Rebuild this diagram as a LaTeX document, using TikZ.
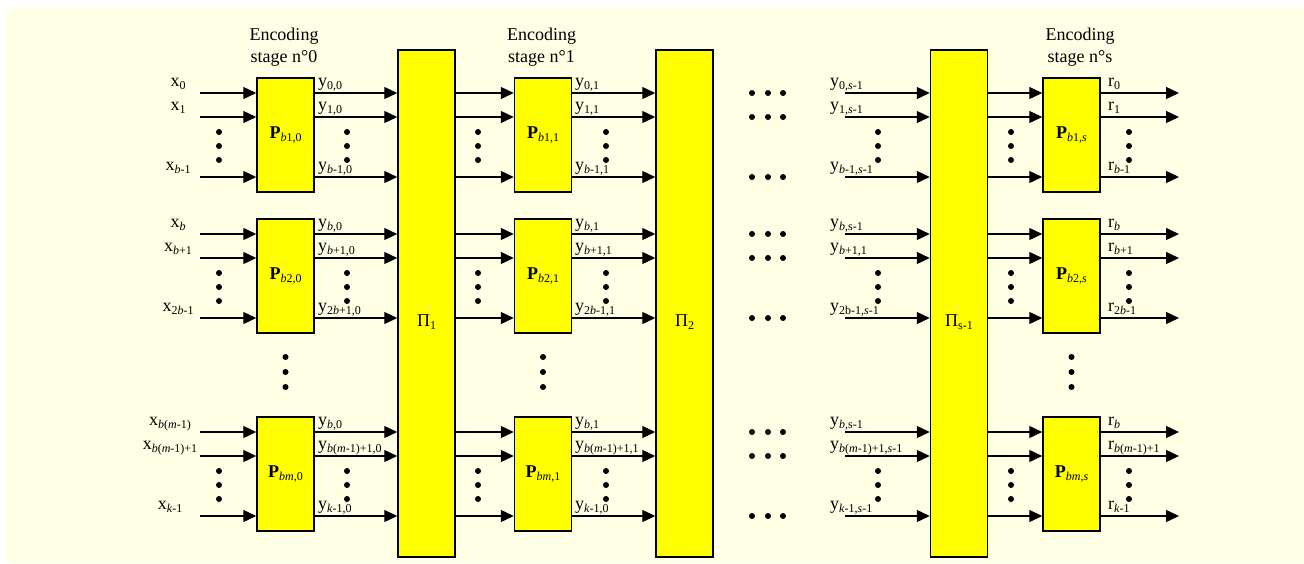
\documentclass[tikz,border=0pt]{standalone}
\usepackage{fontspec}
\setmainfont{Liberation Serif}
\usetikzlibrary{arrows.meta}
\definecolor{bgc}{RGB}{255,255,229}
\definecolor{ylw}{RGB}{255,255,0}
\newcommand{\sbs}[1]{\raisebox{-3pt}{\fontsize{12}{12}\selectfont #1}}
\newcommand{\vB}{\textit{b}}
\newcommand{\vM}{\textit{m}}
\newcommand{\vK}{\textit{k}}
\newcommand{\vS}{\textit{s}}
\newcommand{\Lw}[4]{\node[lbl,anchor=base west] (#1) at (#2,#3) {#4};}
\newcommand{\Lc}[4]{\node[lbl,anchor=base] (#1) at (#2,#3) {#4};}
\begin{document}
\begin{tikzpicture}[x=1pt,y=-1pt,
  lbl/.style={inner sep=0pt, font=\fontsize{18}{22}\selectfont},
  pbox/.style={draw=black, line width=1.5pt, fill=ylw, minimum width=57pt, minimum height=114pt, inner sep=0pt, font=\fontsize{18}{22}\selectfont},
  pibox/.style={draw=black, line width=1.5pt, fill=ylw, minimum width=57pt, minimum height=507pt, inner sep=0pt},
  arr/.style={line width=1.3pt, -{Triangle[length=13pt,width=12pt]}},
  dotc/.style={fill=black}]
\useasboundingbox (0,0) rectangle (1304,563);
\fill[bgc] (6,8) rectangle (1304,563);

% permutation boxes
\node[pibox] (Pi1) at (426.5,303.5) {};
\node[pibox] (Pi2) at (684.5,303.5) {};
\node[pibox] (Pis) at (959,303.5) {};
\node[lbl] (Pi1lab) at (426.5,322) {Π\sbs{1}};
\node[lbl] (Pi2lab) at (684.5,322) {Π\sbs{2}};
\node[lbl] (Pislab) at (959,322) {Π\sbs{s-1}};

% stage headers
\Lc{h0a}{284}{40}{Encoding}
\Lc{h0b}{284}{62}{stage n°0}
\Lc{h1a}{541.5}{40}{Encoding}
\Lc{h1b}{541.5}{62}{stage n°1}
\Lc{hsa}{1080}{40}{Encoding}
\Lc{hsb}{1080}{62}{stage n°s}

\foreach \bk/\dy/\sb in {1/0/1,2/141/2,m/339/\vM}{
  \node[pbox] (P0\bk) at (285.5,{135+\dy}) {\textbf{P}\sbs{\vB\sb,0}};
  \node[pbox] (P1\bk) at (543,{135+\dy}) {\textbf{P}\sbs{\vB\sb,1}};
  \node[pbox] (Ps\bk) at (1071.5,{135+\dy}) {\textbf{P}\sbs{\vB\sb,\vS}};
  \foreach \rr/\ry in {a/93,b/117,c/177}{
    \coordinate (x\bk\rr) at (200,{\ry+\dy});
    \draw[arr] (x\bk\rr) -- (x\bk\rr -| P0\bk.west);
    \draw[arr] (x\bk\rr -| P0\bk.east) -- (x\bk\rr -| Pi1.west);
    \draw[arr] (x\bk\rr -| Pi1.east) -- (x\bk\rr -| P1\bk.west);
    \draw[arr] (x\bk\rr -| P1\bk.east) -- (x\bk\rr -| Pi2.west);
    \coordinate (u\bk\rr) at (845,{\ry+\dy});
    \draw[arr] (u\bk\rr) -- (u\bk\rr -| Pis.west);
    \draw[arr] (u\bk\rr -| Pis.east) -- (u\bk\rr -| Ps\bk.west);
    \coordinate (o\bk\rr) at (1179,{\ry+\dy});
    \draw[arr] (o\bk\rr -| Ps\bk.east) -- (o\bk\rr);
    \foreach \hx in {752,768,783} \fill[dotc] (\hx,{\ry+\dy}) circle (3pt);
  }
  \foreach \dx in {219,347,478,606,878,1011,1129}
    \foreach \dd in {132,146,160} \fill[dotc] (\dx,{\dd+\dy}) circle (3pt);
}
\foreach \vx in {285.5,543,1071.5}
  \foreach \vy in {357,372,387} \fill[dotc] (\vx,\vy) circle (3pt);

% stage 0 inputs
\Lc{la1}{178}{86.5}{x\sbs{0}}
\Lc{la2}{178}{110.5}{x\sbs{1}}
\Lc{la3}{178}{170.5}{x\sbs{\vB-1}}
\Lc{la4}{178}{227.5}{x\sbs{\vB}}
\Lc{la5}{178}{251.5}{x\sbs{\vB+1}}
\Lc{la6}{178}{311.5}{x\sbs{2\vB-1}}
\Lc{la7}{170}{425.5}{x\sbs{\vB(\vM-1)}}
\Lc{la8}{170}{449.5}{x\sbs{\vB(\vM-1)+1}}
\Lc{la9}{170}{509.5}{x\sbs{\vK-1}}
% stage 0 outputs
\Lw{lb1}{318}{86.5}{y\sbs{0,0}}
\Lw{lb2}{318}{110.5}{y\sbs{1,0}}
\Lw{lb3}{318}{170.5}{y\sbs{\vB-1,0}}
\Lw{lb4}{318}{227.5}{y\sbs{\vB,0}}
\Lw{lb5}{318}{251.5}{y\sbs{\vB+1,0}}
\Lw{lb6}{318}{311.5}{y\sbs{2\vB+1,0}}
\Lw{lb7}{318}{425.5}{y\sbs{\vB,0}}
\Lw{lb8}{318}{449.5}{y\sbs{\vB(\vM-1)+1,0}}
\Lw{lb9}{318}{509.5}{y\sbs{\vK-1,0}}
% stage 1 outputs
\Lw{lc1}{575}{86.5}{y\sbs{0,1}}
\Lw{lc2}{575}{110.5}{y\sbs{1,1}}
\Lw{lc3}{575}{170.5}{y\sbs{\vB-1,1}}
\Lw{lc4}{575}{227.5}{y\sbs{\vB,1}}
\Lw{lc5}{575}{251.5}{y\sbs{\vB+1,1}}
\Lw{lc6}{575}{311.5}{y\sbs{2\vB-1,1}}
\Lw{lc7}{575}{425.5}{y\sbs{\vB,1}}
\Lw{lc8}{575}{449.5}{y\sbs{\vB(\vM-1)+1,1}}
\Lw{lc9}{575}{509.5}{y\sbs{\vK-1,0}}
% stage s-1 inputs
\Lw{ld1}{830}{86.5}{y\sbs{0,\vS-1}}
\Lw{ld2}{830}{110.5}{y\sbs{1,\vS-1}}
\Lw{ld3}{830}{170.5}{y\sbs{\vB-1,\vS-1}}
\Lw{ld4}{830}{227.5}{y\sbs{\vB,s-1}}
\Lw{ld5}{830}{251.5}{y\sbs{\vB+1,1}}
\Lw{ld6}{830}{311.5}{y\sbs{2b-1,\vS-1}}
\Lw{ld7}{830}{425.5}{y\sbs{\vB,s-1}}
\Lw{ld8}{830}{449.5}{y\sbs{\vB(\vM-1)+1,\vS-1}}
\Lw{ld9}{830}{509.5}{y\sbs{\vK-1,\vS-1}}
% stage s outputs
\Lw{le1}{1108}{86.5}{r\sbs{0}}
\Lw{le2}{1108}{110.5}{r\sbs{1}}
\Lw{le3}{1108}{170.5}{r\sbs{\vB-1}}
\Lw{le4}{1108}{227.5}{r\sbs{\vB}}
\Lw{le5}{1108}{251.5}{r\sbs{\vB+1}}
\Lw{le6}{1108}{311.5}{r\sbs{2\vB-1}}
\Lw{le7}{1108}{425.5}{r\sbs{\vB}}
\Lw{le8}{1108}{449.5}{r\sbs{\vB(\vM-1)+1}}
\Lw{le9}{1108}{509.5}{r\sbs{\vK-1}}
\end{tikzpicture}
\end{document}
